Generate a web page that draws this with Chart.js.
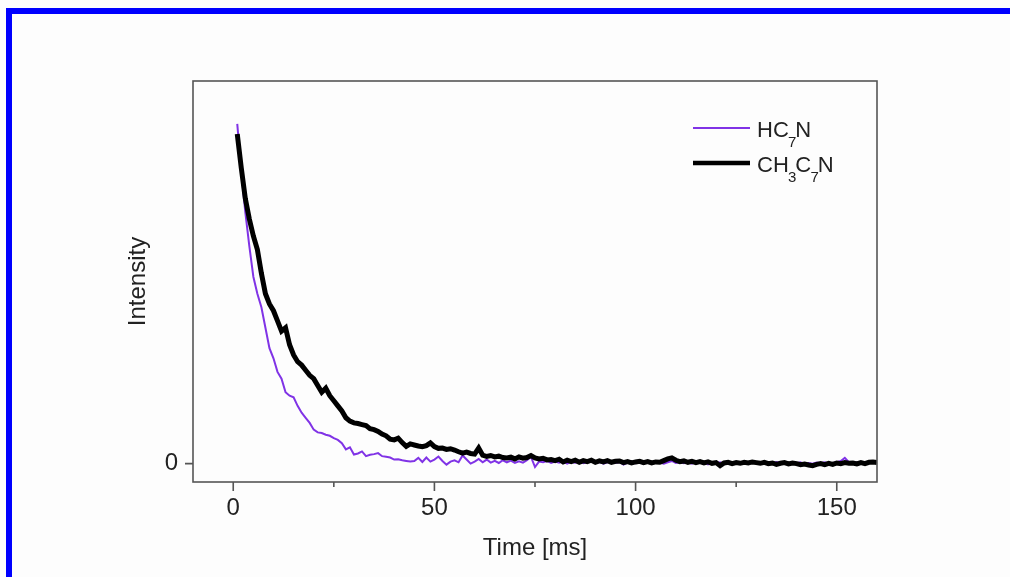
<!DOCTYPE html>
<html>
<head>
<meta charset="utf-8">
<script src="https://cdn.jsdelivr.net/npm/chart.js@4/dist/chart.umd.min.js"></script>
<style>
  html, body { margin: 0; padding: 0; background: #fdfdfd; overflow: hidden; }
  #frame { position: absolute; left: 6px; top: 8px; width: 1100px; height: 700px; border: 6px solid #0000ff; }
  #wrap { position: absolute; left: 0; top: 0; width: 1010px; height: 577px; }
</style>
</head>
<body>
<div id="wrap"><canvas id="decay"></canvas></div>
<div id="frame"></div>
<script>
// time axis [ms]
const timeMs = [
  1, 2, 3, 4, 5, 6, 7, 8, 9, 10, 11, 12, 13, 14, 15, 16, 17, 18, 19, 20,
  21, 22, 23, 24, 25, 26, 27, 28, 29, 30, 31, 32, 33, 34, 35, 36, 37, 38, 39, 40,
  41, 42, 43, 44, 45, 46, 47, 48, 49, 50, 51, 52, 53, 54, 55, 56, 57, 58, 59, 60,
  61, 62, 63, 64, 65, 66, 67, 68, 69, 70, 71, 72, 73, 74, 75, 76, 77, 78, 79, 80,
  81, 82, 83, 84, 85, 86, 87, 88, 89, 90, 91, 92, 93, 94, 95, 96, 97, 98, 99, 100,
  101, 102, 103, 104, 105, 106, 107, 108, 109, 110, 111, 112, 113, 114, 115, 116, 117, 118, 119, 120,
  121, 122, 123, 124, 125, 126, 127, 128, 129, 130, 131, 132, 133, 134, 135, 136, 137, 138, 139, 140,
  141, 142, 143, 144, 145, 146, 147, 148, 149, 150, 151, 152, 153, 154, 155, 156, 157, 158, 159, 160
];

// HC7N intensity (normalised)
const hc7n = [
  1.00, 0.86, 0.74, 0.64, 0.55, 0.50, 0.46, 0.40, 0.34, 0.31, 0.27, 0.25, 0.21, 0.20, 0.195, 0.17, 0.15, 0.135, 0.12, 0.10,
  0.092, 0.09, 0.085, 0.082, 0.075, 0.07, 0.06, 0.042, 0.048, 0.027, 0.03, 0.036, 0.022, 0.026, 0.028, 0.031, 0.022, 0.02, 0.018, 0.012,
  0.013, 0.01, 0.008, 0.006, 0.008, 0.017, 0.005, 0.018, 0.006, 0.012, 0.021, 0.008, -0.003, 0.006, 0.01, 0.004, 0.024, 0.012, 0.0, 0.006,
  0.014, 0.004, 0.012, 0.003, 0.008, 0.002, 0.01, 0.004, 0.009, 0.002, 0.007, 0.003, 0.01, 0.02, -0.01, 0.006, 0.004, 0.008, 0.002, 0.006,
  0.003, 0.007, 0.0, 0.005, 0.003, 0.006, 0.001, 0.004, 0.006, 0.002, 0.005, 0.0, 0.004, 0.007, 0.002, 0.005, -0.003, 0.003, 0.006, 0.001,
  0.004, 0.0, 0.005, 0.002, 0.006, 0.003, 0.0, 0.004, 0.008, 0.002, 0.005, 0.001, 0.004, 0.0, 0.006, 0.002, 0.004, -0.002, 0.003, 0.001,
  0.004, 0.0, 0.003, 0.005, 0.001, 0.004, 0.0, 0.003, 0.006, 0.002, 0.004, 0.0, 0.003, 0.001, 0.005, 0.002, 0.004, 0.0, 0.003, 0.001,
  0.004, -0.002, 0.002, 0.0, 0.003, 0.001, 0.004, 0.0, 0.002, 0.004, 0.008, 0.017, 0.004, 0.001, 0.003, 0.0, 0.004, 0.002, 0.003, 0.005
];

// CH3C7N intensity (normalised)
const ch3c7n = [
  0.97, 0.87, 0.78, 0.72, 0.67, 0.63, 0.56, 0.50, 0.47, 0.45, 0.42, 0.39, 0.40, 0.35, 0.32, 0.30, 0.29, 0.275, 0.26, 0.25,
  0.23, 0.21, 0.222, 0.20, 0.185, 0.17, 0.155, 0.135, 0.125, 0.12, 0.118, 0.115, 0.112, 0.103, 0.10, 0.095, 0.087, 0.082, 0.072, 0.07,
  0.075, 0.062, 0.051, 0.058, 0.055, 0.052, 0.05, 0.053, 0.061, 0.05, 0.045, 0.046, 0.042, 0.044, 0.04, 0.035, 0.031, 0.034, 0.03, 0.028,
  0.046, 0.025, 0.021, 0.024, 0.02, 0.022, 0.018, 0.017, 0.019, 0.014, 0.02, 0.016, 0.018, 0.024, 0.017, 0.014, 0.016, 0.011, 0.012, 0.009,
  0.013, 0.005, 0.01, 0.006, 0.01, 0.004, 0.009, 0.006, 0.01, 0.004, 0.008, 0.005, 0.009, 0.004, 0.007, 0.008, 0.003, 0.006, 0.002, 0.005,
  0.007, 0.003, 0.006, 0.002, 0.005, 0.004, 0.009, 0.014, 0.017, 0.01, 0.006, 0.008, 0.004, 0.007, 0.003, 0.006, 0.002, 0.005, 0.001, 0.003,
  -0.006, 0.002, 0.004, 0.0, 0.003, 0.001, 0.004, 0.002, 0.005, 0.003, 0.001, 0.004, 0.0, 0.002, -0.002, 0.001, 0.003, -0.001, 0.002, 0.0,
  -0.003, -0.001, -0.004, -0.006, -0.002, 0.0, -0.003, 0.001, -0.002, 0.002, 0.0, 0.003, 0.001, 0.002, -0.001, 0.003, 0.0, 0.004, 0.005, 0.003
];

const xLabels = [0, 50, 100, 150];
const xMinor = [25, 75, 125];
const yLabels = [0];

const FONT = "'Liberation Sans', Arial, sans-serif";
const PURPLE = '#8033e6';

function pts(vals) {
  return timeMs.map((t, i) => ({ x: t, y: vals[i] }));
}

// box around plot + tick marks
const frameTicks = {
  id: 'frameTicks',
  afterDraw(chart) {
    const ctx = chart.ctx;
    const a = chart.chartArea;
    const xs = chart.scales.x, ys = chart.scales.y;
    ctx.save();
    ctx.strokeStyle = '#555';
    ctx.lineWidth = 1.6;
    ctx.strokeRect(a.left, a.top, a.right - a.left, a.bottom - a.top);
    ctx.beginPath();
    xLabels.forEach(v => {
      const px = xs.getPixelForValue(v);
      ctx.moveTo(px, a.bottom); ctx.lineTo(px, a.bottom + 9);
    });
    xMinor.forEach(v => {
      const px = xs.getPixelForValue(v);
      ctx.moveTo(px, a.bottom); ctx.lineTo(px, a.bottom + 5);
    });
    yLabels.forEach(v => {
      const py = ys.getPixelForValue(v);
      ctx.moveTo(a.left - 8, py); ctx.lineTo(a.left, py);
    });
    ctx.stroke();
    ctx.restore();
  }
};

// legend with subscripts
const subLegend = {
  id: 'subLegend',
  afterDraw(chart) {
    const ctx = chart.ctx;
    const items = [
      { color: PURPLE, width: 2, y: 128, parts: [['HC', 0], ['7', 1], ['N', 0]] },
      { color: '#000', width: 4.5, y: 163, parts: [['CH', 0], ['3', 1], ['C', 0], ['7', 1], ['N', 0]] }
    ];
    ctx.save();
    items.forEach(it => {
      ctx.strokeStyle = it.color;
      ctx.lineWidth = it.width;
      ctx.beginPath();
      ctx.moveTo(693, it.y); ctx.lineTo(750, it.y);
      ctx.stroke();
      let x = 757;
      const base = it.y + 9;
      ctx.fillStyle = '#222';
      ctx.textBaseline = 'alphabetic';
      it.parts.forEach(([s, sub]) => {
        ctx.font = (sub ? '15px ' : '22px ') + FONT;
        ctx.fillText(s, x, sub ? base + 10 : base);
        x += ctx.measureText(s).width - (sub ? 1 : 0.8);
      });
    });
    ctx.restore();
  }
};

new Chart(document.getElementById('decay'), {
  type: 'line',
  data: {
    datasets: [
      {
        label: 'CH3C7N',
        data: pts(ch3c7n),
        borderColor: '#000',
        borderWidth: 5,
        pointRadius: 0,
        tension: 0
      },
      {
        label: 'HC7N',
        data: pts(hc7n),
        borderColor: PURPLE,
        borderWidth: 2,
        pointRadius: 0,
        tension: 0
      }
    ]
  },
  options: {
    responsive: true,
    maintainAspectRatio: false,
    animation: false,
    layout: { padding: { left: 0, right: 133, top: 81, bottom: 0 } },
    plugins: {
      legend: { display: false },
      tooltip: { enabled: false }
    },
    scales: {
      x: {
        type: 'linear',
        min: -10,
        max: 160,
        grid: { display: false, drawTicks: false },
        border: { display: false },
        afterBuildTicks: s => { s.ticks = xLabels.map(v => ({ value: v })); },
        afterFit: s => { s.height = 95; },
        ticks: { padding: 12, color: '#222', font: { family: FONT, size: 24 }, maxRotation: 0 },
        title: { display: true, text: 'Time [ms]', color: '#222', font: { family: FONT, size: 24 }, padding: { top: 0, bottom: 14 } }
      },
      y: {
        min: -0.054,
        max: 1.126,
        grid: { display: false, drawTicks: false },
        border: { display: false },
        afterBuildTicks: s => { s.ticks = yLabels.map(v => ({ value: v })); },
        afterFit: s => { s.width = 193; },
        ticks: { padding: 15, color: '#222', font: { family: FONT, size: 24 } },
        title: { display: true, text: 'Intensity', color: '#222', font: { family: FONT, size: 24 }, padding: { top: 124, bottom: 0 } }
      }
    }
  },
  plugins: [frameTicks, subLegend]
});
</script>
</body>
</html>
